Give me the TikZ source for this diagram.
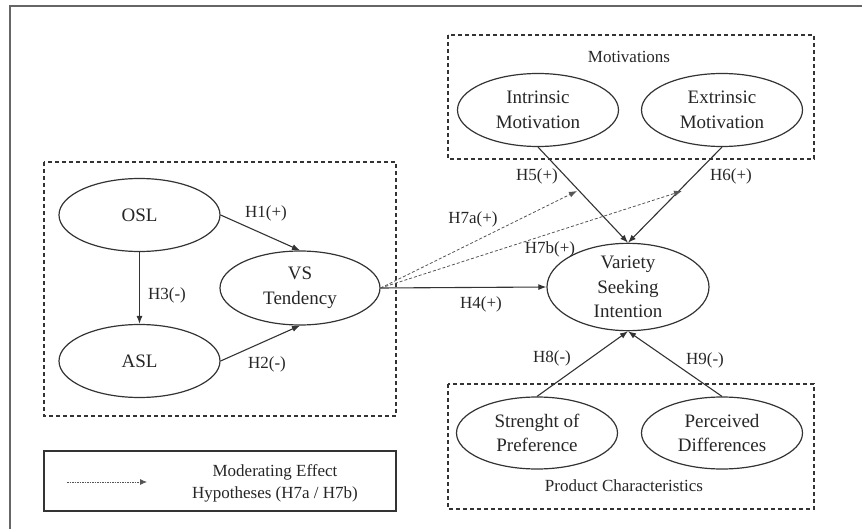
\documentclass[tikz,border=0pt]{standalone}
\usepackage{fontspec}
\setmainfont{Liberation Serif}
\usetikzlibrary{shapes.geometric,arrows.meta}
\definecolor{ln}{HTML}{333333}
\definecolor{dl}{HTML}{555555}
\tikzset{
  ell/.style={draw=ln, line width=1.2pt, ellipse, inner sep=0pt, align=center,
    font=\fontsize{19}{24.5}\selectfont, text=black!85},
  grp/.style={draw=ln, line width=1.2pt, dash pattern=on 4pt off 3pt},
  arr/.style={draw=ln, line width=1.1pt, -{Latex[length=8pt,width=6pt]}},
  marr/.style={draw=dl, line width=0.8pt, dash pattern=on 3pt off 2pt, -{Latex[length=8pt,width=6pt]}},
  lab/.style={font=\fontsize{17}{20}\selectfont, text=black!85, inner sep=0pt},
}
\begin{document}
\begin{tikzpicture}[x=1pt,y=-1pt]
\useasboundingbox (0,0) rectangle (862,529);
% outer frame (cropped)
\draw[draw=black!60, line width=1.5pt] (10,540) -- (10,6) -- (870,6);
% group boxes
\draw[grp] (44,162) rectangle (396,416);
\draw[grp] (448,35) rectangle (814,159);
\draw[grp] (448,384) rectangle (814,509);
\node[lab] (motlab) at (629,57) {Motivations};
\node[lab] (pclab) at (624,486) {Product Characteristics};
% ellipses
\node[ell, minimum width=161pt, minimum height=73pt] (osl) at (139.5,215) {OSL};
\node[ell, minimum width=161pt, minimum height=73pt] (asl) at (139.5,361) {ASL};
\node[ell, minimum width=160pt, minimum height=74pt] (vs) at (300,288) {VS\\Tendency};
\node[ell, minimum width=162pt, minimum height=82pt] (vsi) at (628,287) {Variety\\Seeking\\Intention};
\node[ell, minimum width=161pt, minimum height=73pt] (im) at (538,110) {Intrinsic\\Motivation};
\node[ell, minimum width=161pt, minimum height=73pt] (em) at (722,110) {Extrinsic\\Motivation};
\node[ell, minimum width=161pt, minimum height=72pt] (sp) at (537,433) {Strenght of\\Preference};
\node[ell, minimum width=161pt, minimum height=72pt] (pd) at (722,433) {Perceived\\Differences};
% connectors
\draw[arr] (osl.east) -- (vs.north);
\draw[arr] (asl.east) -- (vs.south);
\draw[arr] (osl.south) -- (asl.north);
\draw[arr] (vs.east) -- (vsi.west);
\draw[arr] (im.south) -- (vsi.north);
\draw[arr] (em.south) -- (vsi.north);
\draw[arr] (sp.north) -- (vsi.south);
\draw[arr] (pd.north) -- (vsi.south);
\coordinate (h7a) at (577,191);
\coordinate (h7b) at (682,191);
\draw[marr] (vs.east) -- (h7a);
\draw[marr] (vs.east) -- (h7b);
% labels
\node[lab] (l1) at (266,213) {H1(+)};
\node[lab] (l2) at (267,364) {H2(-)};
\node[lab] (l3) at (167,295) {H3(-)};
\node[lab] (l4) at (481,304) {H4(+)};
\node[lab] (l5) at (537,176) {H5(+)};
\node[lab] (l6) at (731,176) {H6(+)};
\node[lab] (l7a) at (473,219) {H7a(+)};
\node[lab] (l7b) at (550,249) {H7b(+)};
\node[lab] (l8) at (552,358) {H8(-)};
\node[lab] (l9) at (705,360) {H9(-)};
% legend
\draw[draw=ln, line width=1.2pt] (44,451) rectangle (396,511);
\coordinate (lg1) at (67,482);
\coordinate (lg2) at (147,482);
\draw[draw=dl, line width=0.8pt, dash pattern=on 1.5pt off 1pt, -{Latex[length=7pt,width=6pt]}] (lg1) -- (lg2);
\node[lab, align=center, font=\fontsize{17}{22}\selectfont] (lgt) at (275,483) {Moderating Effect\\Hypotheses (H7a / H7b)};
\end{tikzpicture}
\end{document}
